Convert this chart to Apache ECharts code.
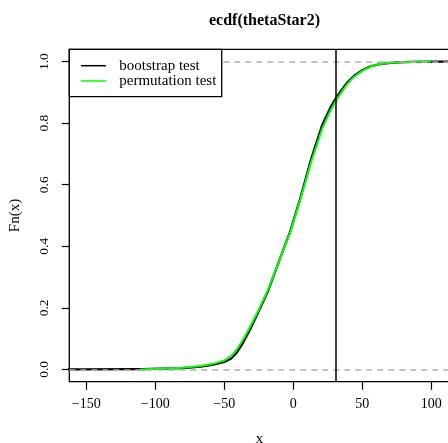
<!DOCTYPE html>
<html>
<head>
<meta charset="utf-8">
<script src="https://cdn.jsdelivr.net/npm/echarts@6/dist/echarts.min.js"></script>
<style>
  html, body { margin: 0; padding: 0; background: #fff; }
  #chart { width: 448px; height: 443px; }
</style>
</head>
<body>
<div id="chart"></div>
<script>
// Axis extents and tick positions
const xMin = -162.3, xMax = 113.3;
const yMin = -0.04, yMax = 1.04;
const xTicks = [-150, -100, -50, 0, 50, 100];
const yTicks = [0, 0.2, 0.4, 0.6, 0.8, 1.0];

// Observed statistic (vertical reference line)
const observed = 30.8;

// Empirical CDF of the bootstrap statistics
const bootX = [-152, -110, -80, -67, -58, -50, -45, -41, -37, -33, -30, -25, -18, -10, -2.5, 5, 13, 21, 27, 31, 35, 39, 44, 50, 56, 63, 72, 85, 103];
const bootY = [0, 0.001, 0.004, 0.009, 0.015, 0.024, 0.035, 0.054, 0.082, 0.115, 0.142, 0.19, 0.258, 0.356, 0.445, 0.555, 0.685, 0.795, 0.852, 0.882, 0.908, 0.932, 0.954, 0.972, 0.985, 0.992, 0.997, 0.999, 1];

// Empirical CDF of the permutation statistics
const permX = [-111, -80, -67, -58, -50, -45, -41, -37, -33, -30, -25, -18, -10, -2.5, 5, 13, 21, 27, 31, 35, 39, 44, 50, 56, 63, 72, 85, 100];
const permY = [0, 0.005, 0.011, 0.018, 0.029, 0.043, 0.064, 0.092, 0.124, 0.15, 0.194, 0.262, 0.356, 0.442, 0.55, 0.675, 0.783, 0.842, 0.874, 0.901, 0.927, 0.951, 0.97, 0.984, 0.992, 0.997, 0.999, 1];

const legendNames = ['bootstrap test', 'permutation test'];
const seriesColors = ['#000000', '#00ff00'];

function pairs(xs, ys) { return xs.map((x, i) => [x, ys[i]]); }

// extend the bootstrap ECDF to the plot edges, as a step function does
const bootData = [[xMin - 5, 0]].concat(pairs(bootX, bootY), [[xMax + 5, 1]]);
const permData = pairs(permX, permY);

const serif = 'Liberation Serif';
const chart = echarts.init(document.getElementById('chart'), null, { renderer: 'canvas' });

// legend box in the top-left corner of the plot
const lgLeft = 69.3, lgTop = 49.3;
const lgFont = '15px "Liberation Serif"';
const legendGraphics = [
  { type: 'rect', z: 100, shape: { x: lgLeft, y: lgTop, width: 152.4, height: 47.4 },
    style: { fill: '#fff', stroke: '#000', lineWidth: 1.3 } },
  { type: 'line', z: 101, shape: { x1: lgLeft + 11.7, y1: lgTop + 16.4, x2: lgLeft + 36.7, y2: lgTop + 16.4 },
    style: { stroke: seriesColors[0], lineWidth: 1.5 } },
  { type: 'line', z: 101, shape: { x1: lgLeft + 11.7, y1: lgTop + 31.7, x2: lgLeft + 36.7, y2: lgTop + 31.7 },
    style: { stroke: seriesColors[1], lineWidth: 1.5 } },
  { type: 'text', z: 101, x: lgLeft + 50, y: lgTop + 16.6,
    style: { text: legendNames[0], font: lgFont, fill: '#000', verticalAlign: 'middle' } },
  { type: 'text', z: 101, x: lgLeft + 50, y: lgTop + 31.9,
    style: { text: legendNames[1], font: lgFont, fill: '#000', verticalAlign: 'middle' } }
];

chart.setOption({
  animation: false,
  backgroundColor: '#ffffff',
  title: {
    text: 'ecdf(thetaStar2)',
    left: 259.5, top: 8, textAlign: 'center',
    textStyle: { fontFamily: serif, fontWeight: 'bold', fontSize: 16, color: '#000' }
  },
  grid: {
    left: 69.3, top: 49.3, right: -1.7, bottom: 61.3,
    outerBoundsMode: 'none', containLabel: false,
    show: true, borderColor: '#000', borderWidth: 1.3, backgroundColor: 'transparent'
  },
  xAxis: {
    type: 'value', min: xMin, max: xMax,
    name: 'x', nameLocation: 'middle', nameGap: 50,
    nameTextStyle: { fontFamily: serif, fontSize: 15, color: '#000' },
    axisLine: { show: false, onZero: false },
    splitLine: { show: false },
    axisTick: { show: true, length: 8, customValues: xTicks, lineStyle: { color: '#000', width: 1.2 } },
    axisLabel: {
      customValues: xTicks, margin: 16,
      fontFamily: serif, fontSize: 14, color: '#000',
      formatter: v => String(v).replace('-', '\u2212')
    }
  },
  yAxis: {
    type: 'value', min: yMin, max: yMax,
    name: 'Fn(x)', nameLocation: 'middle', nameGap: 47, nameRotate: 90,
    nameTextStyle: { fontFamily: serif, fontSize: 15, color: '#000' },
    axisLine: { show: false, onZero: false },
    splitLine: { show: false },
    axisTick: { show: true, length: 7.6, customValues: yTicks, lineStyle: { color: '#000', width: 1.2 } },
    axisLabel: {
      customValues: yTicks, margin: 17.5, rotate: 90,
      fontFamily: serif, fontSize: 13.5, color: '#000',
      formatter: v => v.toFixed(1)
    }
  },
  series: [
    {
      name: legendNames[0], type: 'line', data: bootData, showSymbol: false, z: 2,
      lineStyle: { color: seriesColors[0], width: 2.2, join: 'round' }
    },
    {
      name: legendNames[1], type: 'line', data: permData, showSymbol: false, z: 3,
      lineStyle: { color: seriesColors[1], width: 2, join: 'round' }
    },
    {
      type: 'line', data: [], z: 4,
      markLine: {
        silent: true, symbol: 'none', label: { show: false },
        lineStyle: { color: '#b3b3b3', type: [6, 5], width: 1.5 },
        data: [{ yAxis: 0 }, { yAxis: 1 }]
      }
    },
    {
      type: 'line', data: [], z: 5,
      markLine: {
        silent: true, symbol: 'none', label: { show: false },
        lineStyle: { color: '#000', type: 'solid', width: 1.5 },
        data: [{ xAxis: observed }]
      }
    }
  ],
  graphic: legendGraphics
});
</script>
</body>
</html>
